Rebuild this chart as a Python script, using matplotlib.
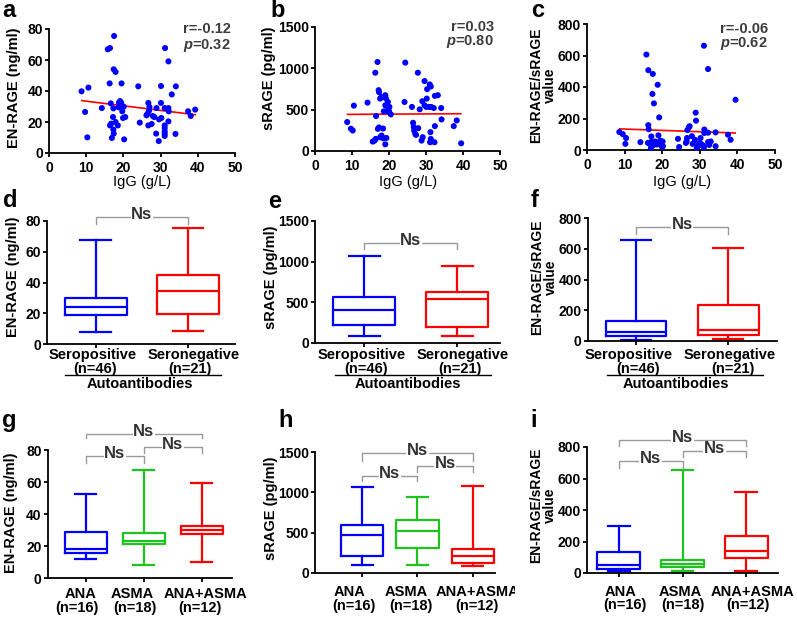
import numpy as np
import matplotlib.pyplot as plt
from matplotlib.lines import Line2D
from matplotlib.patches import Rectangle

plt.rcParams['font.family'] = ['Liberation Sans', 'DejaVu Sans']
plt.rcParams['font.weight'] = 'bold'
plt.rcParams['mathtext.fontset'] = 'custom'
plt.rcParams['mathtext.it'] = 'Liberation Sans:italic:bold'
plt.rcParams['mathtext.rm'] = 'Liberation Sans:bold'

# ---- scatter data (IgG vs marker) ----
a_x = [8.75, 9.7, 10.3, 10.6, 14.2, 15.8, 16.4, 16.3, 16.6, 16.4, 16.7, 16.9, 17.5, 17.4, 17.9,
       17.3, 17.2, 17.3, 17.4, 17.9, 18.5, 18.8, 19.1, 19.4, 18.7, 19.6, 19.7, 20.1, 19.5, 19.9,
       20.5, 20.2, 24.0, 24.4, 26.2, 26.5, 26.7, 27.0, 26.9, 26.7, 27.6, 27.9, 28.3, 28.9, 28.8,
       29.5, 29.6, 30.2, 30.1, 30.1, 31.2, 31.1, 31.1, 31.1, 31.1, 31.1, 31.1, 32.1, 32.1, 32.2,
       32.1, 33.0, 34.1, 34.0, 37.4, 38.1, 39.3]
a_y = [39.8, 26.5, 10.1, 42.2, 29.0, 66.9, 67.7, 44.9, 32.0, 17.8, 18.9, 9.7, 75.5, 54.0, 52.3,
       28.8, 23.2, 15.1, 12.5, 20.0, 17.8, 32.5, 33.5, 32.5, 29.5, 30.3, 26.9, 29.9, 44.9, 22.6,
       23.2, 8.8, 43.0, 19.6, 24.3, 25.4, 32.3, 29.7, 27.3, 17.8, 18.7, 23.9, 23.2, 29.0, 12.5,
       7.7, 21.7, 22.6, 43.2, 32.3, 67.7, 29.0, 17.8, 16.1, 14.0, 12.5, 11.0, 59.1, 29.0, 26.9,
       20.4, 37.8, 43.0, 12.3, 26.9, 23.9, 28.0]
a_fit_x = [8.8, 39.3]
a_fit_y = [33.8, 24.7]

b_x = [8.7, 9.7, 10.2, 10.5, 14.2, 15.6, 16.1, 16.4, 16.5, 16.3, 16.9, 17.0, 17.3, 17.6, 18.0,
       17.2, 17.3, 17.6, 18.0, 19.0, 19.2, 19.7, 19.0, 18.6, 19.7, 20.1, 18.4, 19.0, 18.4, 19.3,
       19.4, 20.0, 20.5, 24.4, 24.2, 26.2, 26.5, 26.7, 26.8, 27.1, 27.3, 27.9, 27.8, 28.3, 29.0,
       29.1, 28.8, 29.6, 29.6, 30.3, 30.2, 30.1, 30.9, 31.0, 31.3, 31.4, 31.2, 31.3, 31.1, 32.3,
       32.1, 32.4, 33.2, 32.4, 34.1, 34.2, 37.5, 38.3, 39.5]
b_y = [350, 270, 248, 549, 585, 114, 126, 146, 423, 947, 1077, 268, 285, 167, 187,
       736, 712, 634, 654, 675, 634, 593, 553, 480, 545, 533, 154, 81, 272, 158,
       484, 484, 443, 1069, 593, 533, 341, 289, 248, 207, 195, 276, 947, 504, 602,
       167, 126, 846, 553, 748, 634, 533, 533, 805, 780, 533, 228, 146, 106, 106,
       520, 667, 675, 301, 520, 382, 301, 370, 93]
b_fit_x = [8.8, 39.4]
b_fit_y = [443, 451]

c_x = [8.6, 9.5, 10.4, 10.2, 14.2, 15.8, 16.3, 17.5, 16.3, 16.4, 17.4, 17.8, 18.8, 19.2, 16.2,
       16.7, 17.1, 17.3, 17.7, 17.0, 18.1, 18.3, 18.6, 19.0, 19.1, 19.5, 19.8, 20.1, 19.9, 20.2,
       17.2, 24.2, 24.5, 26.3, 26.5, 26.7, 27.1, 27.3, 26.6, 27.9, 28.1, 28.9, 29.0, 28.7, 29.2,
       29.5, 30.2, 30.0, 29.8, 30.4, 31.1, 31.2, 31.2, 30.9, 31.1, 32.2, 32.2, 32.2, 32.5, 32.9,
       34.2, 34.2, 37.5, 38.2, 39.5]
c_y = [114, 101, 76, 39, 50, 606, 507, 483, 158, 132, 356, 296, 414, 207, 45,
       39, 86, 28, 32, 13, 54, 45, 35, 93, 45, 60, 50, 54, 22, 24,
       54, 71, 19, 45, 54, 127, 145, 151, 76, 88, 39, 237, 186, 65, 13,
       32, 76, 45, 28, 37, 662, 130, 108, 28, 17, 514, 110, 50, 32, 54,
       112, 24, 97, 65, 319]
c_fit_x = [8.7, 39.4]
c_fit_y = [134, 108]

# ---- box plot summaries: [min, q1, median, q3, max] ----
sero_names = ['Seropositive', 'Seronegative']
sero_n = ['(n=46)', '(n=21)']
d_stats = [[7.8, 18.8, 23.8, 29.6, 67.9], [8.6, 19.5, 34.2, 44.8, 75.7]]
e_stats = [[90, 220, 405, 565, 1075], [80, 200, 545, 625, 945]]
f_stats = [[8, 35, 58, 130, 660], [15, 39, 70, 235, 605]]

ab_names = ['ANA', 'ASMA', 'ANA+ASMA']
ab_n = ['(n=16)', '(n=18)', '(n=12)']
g_stats = [[11.9, 15.9, 18.2, 28.6, 52.2], [7.9, 21.1, 23.2, 28.0, 67.8], [9.8, 27.8, 29.8, 32.4, 59.1]]
h_stats = [[103, 211, 475, 591, 1066], [99, 314, 521, 653, 942], [83, 124, 207, 293, 1074]]
i_stats = [[15, 27, 49, 131, 296], [11, 38, 59, 85, 656], [11, 95, 142, 233, 512]]

BLUE, RED, GREEN = '#0000ff', '#ff0000', '#1ec31e'
W, H = 797, 617
fig = plt.figure(figsize=(W / 100, H / 100), dpi=100)


def add_ax(l, t, r, b):
    ax = fig.add_axes([l / W, 1 - b / H, (r - l) / W, (b - t) / H])
    for s in ['top', 'right']:
        ax.spines[s].set_visible(False)
    for s in ['left', 'bottom']:
        ax.spines[s].set_linewidth(1.3)
    ax.tick_params(direction='out', length=3, width=1.3, labelsize=10, pad=1.5)
    return ax


def ftext(x, y, s, **kw):
    fig.text(x / W, 1 - y / H, s, **kw)


def scatter_panel(ax, x, y, fx, fy, ymax, yticks, r_s, p_s, rx, ry, py):
    ax.scatter(x, y, s=19, color=BLUE, edgecolors='none', clip_on=False, zorder=3)
    ax.plot(fx, fy, color='red', lw=1.2, zorder=2)
    ax.set_xlim(0, 50)
    ax.set_ylim(0, ymax)
    ax.set_xticks([0, 10, 20, 30, 40, 50])
    ax.set_yticks(yticks)
    ax.tick_params(axis='x', pad=2.5)
    ftext(rx, ry, r_s, ha='right', va='center', fontsize=10.5, color='#3c3c3c')
    ftext(rx, py, p_s, ha='right', va='center', fontsize=10.5, color='#3c3c3c')


def box_panel(ax, stats, colors, width, xlim, ymax, yticks):
    bx = [dict(whislo=s[0], q1=s[1], med=s[2], q3=s[3], whishi=s[4], fliers=[]) for s in stats]
    art = ax.bxp(bx, positions=range(len(stats)), widths=width, capwidths=width * 0.5,
                 showfliers=False, manage_ticks=False)
    for k, c in enumerate(colors):
        for el in [art['boxes'][k], art['medians'][k]] + art['whiskers'][2 * k:2 * k + 2] + art['caps'][2 * k:2 * k + 2]:
            el.set_color(c)
            el.set_linewidth(1.6)
            el.set_clip_on(False)
    ax.set_xlim(*xlim)
    ax.set_ylim(0, ymax)
    ax.set_yticks(yticks)
    ax.set_xticks(range(len(stats)))
    ax.set_xticklabels([''] * len(stats))


def cat_labels(names, counts, x1s, x2s, y1, y2):
    for nm, ct, xa, xb in zip(names, counts, x1s, x2s):
        ftext(xa, y1, nm, ha='center', va='center', fontsize=10.5)
        ftext(xb, y2, ct, ha='center', va='center', fontsize=10.5)


def bracket(ax, x1, x2, y, end):
    ax.plot([x1, x1, x2, x2], [end, y, y, end], color='#999999', lw=1, clip_on=False)
    ax.annotate('Ns', xy=((x1 + x2) / 2, y), xytext=(0, -1.5), textcoords='offset points',
                ha='center', va='baseline', fontsize=12, color='#333333', annotation_clip=False,
                bbox=dict(facecolor='white', edgecolor='none', pad=0.5))


# ---- top row ----
ax = add_ax(49, 29, 235, 153)
scatter_panel(ax, a_x, a_y, a_fit_x, a_fit_y, 80, [0, 20, 40, 60, 80],
              'r=-0.12', r'$p$=0.32', 231, 29, 46)
ax = add_ax(315, 27, 500, 151)
scatter_panel(ax, b_x, b_y, b_fit_x, b_fit_y, 1500, [0, 500, 1000, 1500],
              'r=0.03', r'$p$=0.80', 494, 27, 42)
ax = add_ax(587, 24, 775, 150)
scatter_panel(ax, c_x, c_y, c_fit_x, c_fit_y, 800, [0, 200, 400, 600, 800],
              'r=-0.06', r'$p$=0.62', 768, 29, 43)
for xc in [142, 408, 682]:
    ftext(xc, 182, 'IgG (g/L)', ha='center', va='center', fontsize=10.5, fontweight='normal')

# ---- middle row ----
ax = add_ax(47, 221, 235, 344)
box_panel(ax, d_stats, [BLUE, RED], 0.67, (-0.53, 1.51), 80, [0, 20, 40, 60, 80])
bracket(ax, 0, 1, 82.6, 77.8)
cat_labels(sero_names, sero_n, [92.5, 193.5], [95, 190], 355.5, 368.5)
ax = add_ax(315, 221, 500, 343)
box_panel(ax, e_stats, [BLUE, RED], 0.67, (-0.53, 1.46), 1500, [0, 500, 1000, 1500])
bracket(ax, 0, 1, 1228, 1150)
cat_labels(sero_names, sero_n, [361.5, 463], [366, 460], 355.5, 368.5)
ax = add_ax(588, 218, 777, 341)
box_panel(ax, f_stats, [BLUE, RED], 0.66, (-0.52, 1.53), 800, [0, 200, 400, 600, 800])
bracket(ax, 0, 1, 741, 698)
cat_labels(sero_names, sero_n, [628.5, 730], [638, 732.5], 355, 369)
for (x1, x2, xc) in [(65, 221, 140), (335, 491, 408), (607, 763, 676)]:
    fig.add_artist(Line2D([x1 / W, x2 / W], [1 - 375 / H] * 2, color='black', lw=1))
    ftext(xc, 384, 'Autoantibodies', ha='center', va='center', fontsize=10.5)

# ---- bottom row ----
ax = add_ax(48, 450, 232, 578)
box_panel(ax, g_stats, [BLUE, GREEN, RED], 0.73, (-0.65, 2.52), 80, [0, 20, 40, 60, 80])
bracket(ax, 0, 2, 89.8, 87.3)
bracket(ax, 0, 1, 76.2, 72.0)
bracket(ax, 1, 2, 82.0, 78.3)
cat_labels(ab_names, ab_n, [81, 132.5, 205.5], [77, 134.5, 200], 594.5, 608)
ax = add_ax(315, 452, 495, 573)
box_panel(ax, h_stats, [BLUE, GREEN, RED], 0.76, (-0.85, 2.4), 1500, [0, 500, 1000, 1500])
bracket(ax, 0, 2, 1488, 1388)
bracket(ax, 0, 1, 1198, 1140)
bracket(ax, 1, 2, 1322, 1252)
cat_labels(ab_names, ab_n, [350, 406.5, 478], [354, 410.5, 476.5], 592, 606)
ax = add_ax(587, 447, 778, 573)
box_panel(ax, i_stats, [BLUE, GREEN, RED], 0.68, (-0.5, 2.5), 800, [0, 200, 400, 600, 800])
bracket(ax, 0, 2, 846, 804)
bracket(ax, 0, 1, 709, 667)
bracket(ax, 1, 2, 772, 734)
cat_labels(ab_names, ab_n, [621, 680, 753], [624.5, 682.5, 747.5], 592, 605.5)

# label of panel h is cut by panel i in the original
fig.add_artist(Rectangle((515 / W, 0), 15 / W, 1 - 585 / H, facecolor='white', edgecolor='none', zorder=5))

# ---- y labels ----
yl = dict(rotation=90, ha='center', va='center')
ftext(14, 88, 'EN-RAGE (ng/ml)', fontsize=10.5, **yl)
ftext(269, 78, 'sRAGE (pg/ml)', fontsize=10.5, **yl)
ftext(543, 85, 'EN-RAGE/sRAGE\nvalue', linespacing=1.0, fontsize=10, **yl)
ftext(13, 277, 'EN-RAGE (ng/ml)', fontsize=10.5, **yl)
ftext(271, 277, 'sRAGE (pg/ml)', fontsize=10.5, **yl)
ftext(544, 277, 'EN-RAGE/sRAGE\nvalue', linespacing=1.0, fontsize=10, **yl)
ftext(11, 513, 'EN-RAGE (ng/ml)', fontsize=10.5, **yl)
ftext(271, 508, 'sRAGE (pg/ml)', fontsize=10.5, **yl)
ftext(543, 505, 'EN-RAGE/sRAGE\nvalue', linespacing=1.0, fontsize=10, **yl)

# ---- panel letters ----
for (px, py, s) in [(2, 17, 'a'), (270, 17, 'b'), (531, 17, 'c'), (3, 207, 'd'), (268, 208, 'e'),
                    (531, 207, 'f'), (2, 427, 'g'), (278, 427, 'h'), (530, 427, 'i')]:
    ftext(px, py, s, ha='left', va='baseline', fontsize=17)

fig.savefig('out.png', dpi=100)
